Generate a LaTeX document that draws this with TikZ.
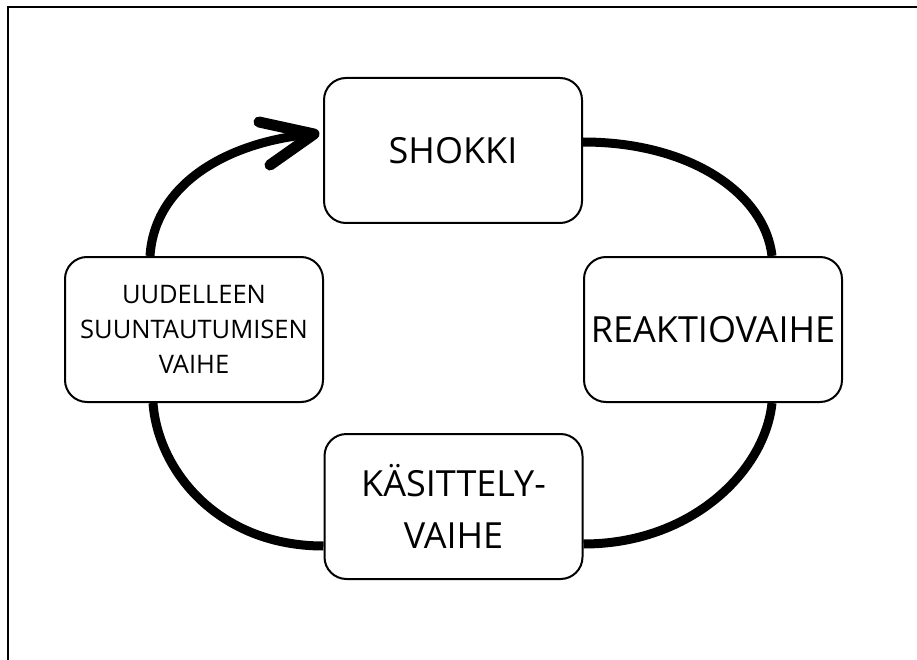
\documentclass[tikz,border=0pt]{standalone}
\usepackage{fontspec}
\setmainfont{Open Sans}
\begin{document}
\begin{tikzpicture}[x=1pt,y=-1pt,
  phase/.style={draw=black, line width=2pt, fill=white, rounded corners=22pt,
    minimum width=258pt, minimum height=145pt, inner sep=0pt, align=center},
  bigtext/.style={font=\fontsize{36}{52}\selectfont},
  smalltext/.style={font=\fontsize{25.5}{35}\selectfont},
  cycle/.style={line width=9pt},
  chevron/.style={line width=11pt, line cap=round, line join=round}]
\useasboundingbox (0,0) rectangle (917,660);
% frame lines along the top and left edges
\draw[line width=2.2pt] (8,660) -- (8,7) -- (917,7);

% the four phases
\node[phase, bigtext]   (shokki) at (453,150.5)   {SHOKKI};
\node[phase, bigtext]   (reakt)  at (713,329.5)   {REAKTIOVAIHE};
\node[phase, bigtext]   (kas)    at (453.5,506.5) {KÄSITTELY-\\VAIHE};
\node[phase, smalltext] (uud)    at (194,329.5)   {UUDELLEEN\\SUUNTAUTUMISEN\\VAIHE};

% cycle connectors
\draw[cycle] ([yshift=8.5pt]shokki.east) .. controls +(108,0) and +(-7,-62) .. ([xshift=59pt]reakt.north);
\draw[cycle] ([xshift=59pt]reakt.south) .. controls +(-7,68) and +(108,0) .. ([yshift=-37.5pt]kas.east);
\draw[cycle] ([yshift=-39.5pt]kas.west) .. controls +(-105,0) and +(5,68) .. ([xshift=-41pt]uud.south);
\coordinate (tip) at ([xshift=-9pt,yshift=16.5pt]shokki.west);
\draw[cycle] ([xshift=-44pt]uud.north) .. controls +(5,-77) and +(-78,6) .. (tip);
\draw[chevron] ([shift={(-55,-12)}]tip) -- (tip) -- ([shift={(-44,31)}]tip);
\end{tikzpicture}
\end{document}
